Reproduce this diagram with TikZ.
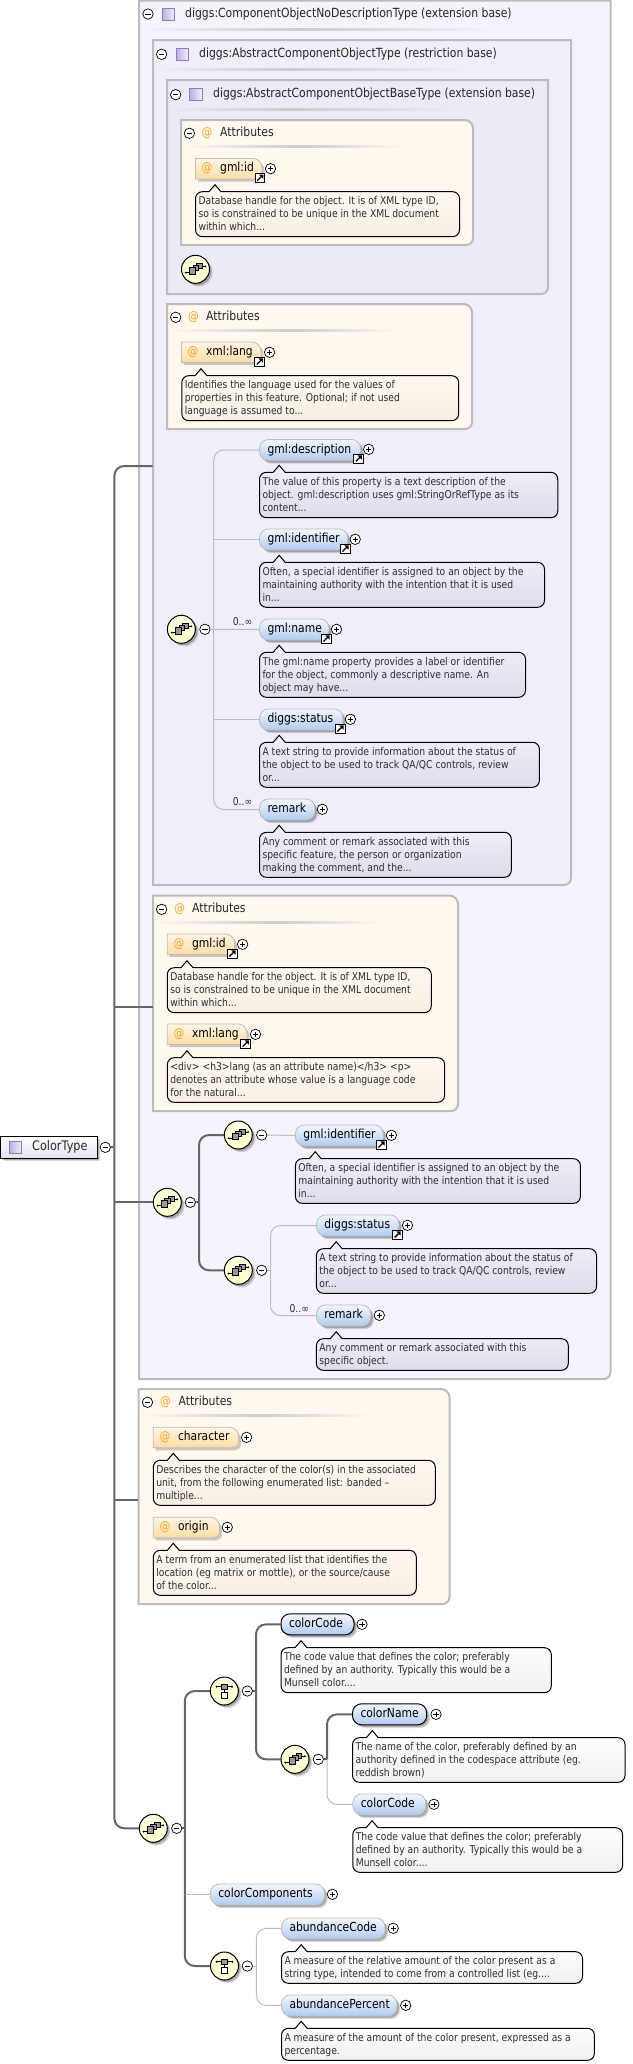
\documentclass[tikz,border=0pt]{standalone}
\usepackage{fontspec}
\setmainfont{DejaVu Sans}[FakeStretch=0.86]
\usetikzlibrary{shadows,calc}
\definecolor{boxA}{HTML}{F5F3FB}
\definecolor{boxB}{HTML}{F0EEF8}
\definecolor{boxC}{HTML}{ECEAF5}
\definecolor{attrbg}{HTML}{FFF8EE}
\definecolor{rimgray}{HTML}{BCBCBC}
\definecolor{lightcon}{HTML}{BDBDBD}
\definecolor{darkcon}{HTML}{666666}
\definecolor{txt}{HTML}{2E2E2E}
\definecolor{atorange}{HTML}{F5A623}
\definecolor{pilltop}{HTML}{F4F7FC}
\definecolor{pillbot}{HTML}{B0CBF0}
\definecolor{iconbg}{HTML}{FFFFCC}
\definecolor{lavtop}{HTML}{F1EFF8}
\definecolor{lavbot}{HTML}{E0DCEB}
\definecolor{credtop}{HTML}{FEF9F1}
\definecolor{credbot}{HTML}{F6EFE4}
\definecolor{whtop}{HTML}{FFFFFF}
\definecolor{whbot}{HTML}{F1F1F1}
\definecolor{typetone}{HTML}{BDB0E0}
\definecolor{typerim}{HTML}{8F78C4}
\definecolor{typeglow}{HTML}{F4F1FB}
\definecolor{atrtop}{HTML}{FFF5E4}
\definecolor{atrbot}{HTML}{FCDCA4}
\pgfdeclarelayer{backl}
\pgfdeclarelayer{connl}
\pgfsetlayers{backl,connl,main}
\newcommand\descsize{\fontsize{10.72}{13}\selectfont}
\newcommand\labsize{\fontsize{12.5}{13}\selectfont}
\tikzset{
  softshadow/.style={drop shadow={shadow xshift=2pt,shadow yshift=-2pt,fill=black,opacity=.22},
                     drop shadow={shadow xshift=3.2pt,shadow yshift=-3.2pt,fill=black,opacity=.14}},
  pillopt/.style={draw=lightcon,line width=.8pt,rounded corners=9pt,top color=pilltop,bottom color=pillbot,softshadow,
     inner xsep=8pt,inner ysep=0pt,align=left,minimum height=21pt,text height=8.4pt,text depth=2.4pt,font=\labsize,text=black},
  pillreq/.style={pillopt,draw=black,line width=1pt},
  plainlab/.style={inner xsep=0pt,inner ysep=0pt,anchor=west,font=\labsize,text=black,text height=8.4pt,text depth=2.4pt},
  titlelab/.style={plainlab,font=\fontsize{12.6}{13}\selectfont,text=black!85},
  rootlab/.style={plainlab,font=\fontsize{13.1}{14}\selectfont,text=black!85},
  atglyph/.style={inner sep=0pt,font=\labsize,text=atorange,text height=8.4pt,text depth=2.4pt},
  desctext/.style={inner sep=0pt,anchor=north west,align=left,font=\descsize,text=txt},
  occlab/.style={inner sep=0pt,anchor=center,font=\descsize,text=txt},
  btn/.style={circle,draw=black,line width=.7pt,fill=white,minimum size=10.4pt,inner sep=0pt},
  btnmark/.style={draw=black,line width=.7pt},
  roundic/.style={circle,draw=black,line width=1pt,top color=iconbg!60!white,bottom color=iconbg,minimum size=28pt,inner sep=0pt,softshadow},
  glyphsq/.style={draw=black,line width=.5pt,fill=black!40},
  glyphln/.style={draw=black,line width=.7pt},
  lnk/.style={draw=black,line width=.8pt,fill=white,minimum size=9.6pt,inner sep=0pt},
  typeic/.style={draw=typerim,line width=1.1pt,left color=typetone,right color=typeglow,minimum size=12.4pt,inner sep=0pt},
  rootbox/.style={draw=black,line width=1pt,top color=white,bottom color=boxC!85!typetone,softshadow,minimum width=96.7pt,minimum height=21.6pt,inner sep=0pt},
  rim/.style={draw=rimgray,line width=2pt},
  lightc/.style={draw=lightcon,line width=1pt,rounded corners=10pt},
  thickc/.style={draw=darkcon,line width=2pt,rounded corners=10pt},
  shadowlay/.style={fill=black,opacity=.2},
  descrim/.style={draw=black,line width=1pt},
  lavdesc/.style={descrim,top color=lavtop,bottom color=lavbot},
  creamdesc/.style={descrim,top color=credtop,bottom color=credbot},
  whitedesc/.style={descrim,top color=whtop,bottom color=whbot},
}
% big container: x1 x2 ytop ybot fill topradius
\newcommand\bigbox[6]{%
  \begin{pgfonlayer}{backl}
  \path[rim,fill=#5] (#1,#3) -- ({#2-#6},#3) .. controls ({#2-#6/2},#3) and (#2,{#3+#6/2}) .. (#2,{#3+#6})
     -- (#2,{#4-7}) .. controls (#2,{#4-3}) and ({#2-3},#4) .. ({#2-7},#4) -- (#1,#4) -- cycle;
  \end{pgfonlayer}}
% title rule: x1 xmid x2 y bg
\newcommand\titlerule[5]{%
  \shade[left color=#5,right color=black!20] (#1,{#4-1}) rectangle (#2,{#4+1});
  \shade[left color=black!20,right color=#5] (#2,{#4-1}) rectangle (#3,{#4+1});}
% minus/plus: name x y
\newcommand\minusbtn[3]{\node[btn] (#1) at (#2,#3) {};
  \draw[btnmark] ($(#1.center)+(-2.6,0)$) -- ($(#1.center)+(2.6,0)$);}
\newcommand\plusbtn[3]{\node[btn] (#1) at (#2,#3) {};
  \draw[btnmark] ($(#1.center)+(-2.6,0)$) -- ($(#1.center)+(2.6,0)$);
  \draw[btnmark] ($(#1.center)+(0,-2.6)$) -- ($(#1.center)+(0,2.6)$);}
% link: name x y
\newcommand\linkic[3]{\node[lnk] (#1) at (#2,#3) {};
  \draw[draw=black,line width=1.3pt] ($(#1.center)+(-2.8,2.8)$) -- ($(#1.center)+(1.6,-1.6)$);
  \fill[black] ($(#1.center)+(3.3,-3.3)$) -- ($(#1.center)+(-1,-3.3)$) -- ($(#1.center)+(3.3,1)$) -- cycle;}
% element pill: style name x1 x2 yc text
\newcommand\pill[6]{\pgfmathsetmacro\pw{#4-#3}\pgfmathsetmacro\pc{(#3+#4)/2}\pgfmathsetmacro\tw{#4-#3-16}%
  \node[#1,minimum width=\pw pt,text width=\tw pt] (#2) at (\pc,#5) {#6};}
% attribute label: name x1 x2 yc text
\newcommand\attrlab[5]{%
  \def\atp{(#2,{#4-10.3}) -- ({#3-9},{#4-10.3}) .. controls ({#3-4},{#4-10.3}) and (#3,{#4-6}) .. (#3,{#4-1})
     -- (#3,{#4+5}) .. controls (#3,{#4+8}) and ({#3-3},{#4+10.3}) .. ({#3-6},{#4+10.3}) -- (#2,{#4+10.3}) -- cycle}%
  \fill[shadowlay,shift={(2.4pt,-2.6pt)}] \atp;
  \path[draw=lightcon,line width=.8pt,top color=atrtop,bottom color=atrbot] \atp;
  \node[atglyph] (#1-at) at ({#2+11.6},#4) {@};
  \node[plainlab] (#1) at ({#2+24.5},#4) {#5};}
% description: name style x1 x2 ytop ybot tipx text
\newcommand\desc[8]{%
  \path[#2] ({#3+7},#5) -- ({#7-6},#5) -- (#7,{#5-7}) -- ({#7+6},#5) -- ({#4-7},#5)
    .. controls ({#4-3},#5) and (#4,{#5+3}) .. (#4,{#5+7}) -- (#4,{#6-7})
    .. controls (#4,{#6-3}) and ({#4-3},#6) .. ({#4-7},#6) -- ({#3+7},#6)
    .. controls ({#3+3},#6) and (#3,{#6-3}) .. (#3,{#6-7}) -- (#3,{#5+7})
    .. controls (#3,{#5+3}) and ({#3+3},#5) .. ({#3+7},#5) -- cycle;
  \node[desctext] (#1) at ({#3+2.8},{#5+3.6}) {\rule{0pt}{9pt}#8};}
% sequence icon
\newcommand\seqic[3]{\node[roundic] (#1) at (#2,#3) {};
  \begin{scope}[shift={(#2,#3)}]
   \draw[glyphln] (-9.6,3.3) -- (-5,3.3); \draw[glyphln] (5,-3) -- (9.8,-3);
   \fill (-9.6,3.3) circle (1.1pt); \fill (9.8,-3) circle (1.1pt);
   \path[glyphsq] (1,-6.2) rectangle (6.6,-.6);
   \path[glyphsq] (-2.6,-4.2) rectangle (3,1.4);
   \path[glyphsq] (-6,-1.6) rectangle (.2,4.6);
  \end{scope}}
% choice icon
\newcommand\choiceic[3]{\node[roundic] (#1) at (#2,#3) {};
  \begin{scope}[shift={(#2,#3)}]
   \draw[glyphln] (-7.7,-4.3) -- (7.7,-4.3); \draw[glyphln] (.2,-2) -- (.2,2);
   \fill (-7.7,-4.3) circle (1.1pt); \fill (7.7,-4.3) circle (1.1pt);
   \path[glyphsq] (-2.8,-7) rectangle (3.2,-1.8);
   \path[draw=black,line width=.7pt,fill=white] (-2.8,1.8) rectangle (3.2,7.8);
  \end{scope}}
\begin{document}
\begin{tikzpicture}[x=1pt,y=-1pt]
\useasboundingbox (0,0) rectangle (632,2064);
\begin{pgfonlayer}{backl}
\fill[white] (0,0) rectangle (632,2064);
\end{pgfonlayer}
% containers
\bigbox{139}{610.5}{0.6}{1379}{boxA}{0.1}
\bigbox{153}{571}{40}{885}{boxB}{0.1}
\bigbox{167}{548}{80}{294}{boxC}{0.1}
\bigbox{181}{473}{120}{245}{attrbg}{8}
\bigbox{167}{472}{304}{429}{attrbg}{8}
\bigbox{153}{458}{895.7}{1111}{attrbg}{8}
\bigbox{138.7}{449.5}{1389}{1604}{attrbg}{8}
\coordinate (portB) at (152.6,466);
\coordinate (portAttrC) at (152.6,1007.3);
\coordinate (portAttrD) at (138.2,1500);
% titled frames
\minusbtn{minA}{148}{14}
\node[typeic] (typeA) at (168.5,14.3) {};
\node[titlelab] (titleA) at (185,14) {diggs:ComponentObjectNoDescriptionType (extension base)};
\titlerule{141}{300}{496}{29}{boxA}
\minusbtn{minB}{161.6}{54.3}
\node[typeic] (typeB) at (182.6,54.3) {};
\node[titlelab] (titleB) at (199,54) {diggs:AbstractComponentObjectType (restriction base)};
\titlerule{155}{290}{470}{69}{boxB}
\minusbtn{minC}{175.7}{94.7}
\node[typeic] (typeC) at (196,94.7) {};
\node[titlelab] (titleC) at (213,94.4) {diggs:AbstractComponentObjectBaseType (extension base)};
\titlerule{169}{290}{455}{109}{boxC}
% attributes 1
\minusbtn{minAt1}{189.4}{133.3}
\node[atglyph] (at1) at (207,133.3) {@};
\node[titlelab] (attrT1) at (220,133.3) {Attributes};
\titlerule{183}{300}{403}{146.7}{attrbg}
\attrlab{id1}{195.5}{262}{168.7}{gml:id}
\linkic{id1-link}{260}{178}
\plusbtn{id1-plus}{270.5}{168.7}
\desc{id1-d}{creamdesc}{195.5}{459.5}{191.7}{236.7}{215}{Database handle for the object. It is of XML type ID,\\so is constrained to be unique in the XML document\\within which...}
\seqic{seqC}{195.5}{269.3}
% attributes 2
\minusbtn{minAt2}{175.7}{317.3}
\node[atglyph] (at2) at (193.5,317.3) {@};
\node[titlelab] (attrT2) at (206,317.3) {Attributes};
\titlerule{169}{290}{397}{330.7}{attrbg}
\attrlab{lang1}{181.4}{261}{352.3}{xml:lang}
\linkic{lang1-link}{259.6}{361.7}
\plusbtn{lang1-plus}{269.6}{352.3}
\desc{lang1-d}{creamdesc}{181.8}{458.7}{375.7}{420.7}{201}{Identifies the language used for the values of\\properties in this feature. Optional; if not used\\language is assumed to...}
% element group in B
\pill{pillopt}{gmldesc}{259.5}{360.6}{450}{gml:description}
\linkic{gmldesc-link}{358.6}{458.7}
\plusbtn{gmldesc-plus}{368.7}{449.3}
\desc{gmldesc-d}{lavdesc}{259.5}{557.8}{472.3}{517.7}{279.2}{The value of this property is a text description of the\\object. gml:description uses gml:StringOrRefType as its\\content...}
\pill{pillopt}{gmlident}{259.5}{347.7}{539.5}{gml:identifier}
\linkic{gmlident-link}{345.3}{548.7}
\plusbtn{gmlident-plus}{355.2}{539.3}
\desc{gmlident-d}{lavdesc}{259.5}{544.5}{562.3}{607.3}{279.2}{Often, a special identifier is assigned to an object by the\\maintaining authority with the intention that it is used\\in...}
\node[occlab] (occ1) at (242.5,622) {0..∞};
\pill{pillopt}{gmlname}{259.5}{329}{629.5}{gml:name}
\linkic{gmlname-link}{326.3}{638.7}
\plusbtn{gmlname-plus}{336.5}{629.3}
\desc{gmlname-d}{lavdesc}{259.5}{525.5}{652.3}{697.3}{279.2}{The gml:name property provides a label or identifier\\for the object, commonly a descriptive name. An\\object may have...}
\pill{pillopt}{status}{259.5}{343}{719.5}{diggs:status}
\linkic{status-link}{340.2}{728.7}
\plusbtn{status-plus}{350.4}{719.3}
\desc{status-d}{lavdesc}{259.5}{539.4}{742.3}{787.3}{279.2}{A text string to provide information about the status of\\the object to be used to track QA/QC controls, review\\or...}
\node[occlab] (occ2) at (242.5,802) {0..∞};
\pill{pillopt}{remark}{259.5}{314.8}{809.5}{remark}
\plusbtn{remark-plus}{322.3}{809.3}
\desc{remark-d}{lavdesc}{259.5}{511.3}{832.3}{877.3}{279.2}{Any comment or remark associated with this\\specific feature, the person or organization\\making the comment, and the...}
\seqic{seqA}{181.4}{629.3}
\minusbtn{seqA-minus}{204.9}{629.3}
\coordinate (busA) at (213.7,629.3);
% attributes 3
\minusbtn{minAt3}{161.6}{909.3}
\node[atglyph] (at3) at (179.8,909.3) {@};
\node[titlelab] (attrT3) at (191.9,909.3) {Attributes};
\titlerule{155}{275}{383}{922.7}{attrbg}
\attrlab{id2}{167.3}{234.6}{944.3}{gml:id}
\linkic{id2-link}{232.2}{953.7}
\plusbtn{id2-plus}{242.6}{944.3}
\desc{id2-d}{creamdesc}{167.3}{431.3}{967.7}{1012.7}{187}{Database handle for the object. It is of XML type ID,\\so is constrained to be unique in the XML document\\within which...}
\attrlab{lang2}{167.3}{247}{1034.3}{xml:lang}
\linkic{lang2-link}{245.5}{1043.7}
\plusbtn{lang2-plus}{255.5}{1034.3}
\desc{lang2-d}{creamdesc}{167.3}{444.6}{1057.7}{1102.3}{187}{<div> <h3>lang (as an attribute name)</h3> <p>\\denotes an attribute whose value is a language code\\for the natural...}
% root
\node[rootbox,anchor=west] (root) at (0,1147.4) {};
\node[typeic] (typeRoot) at (15.7,1147.3) {};
\node[rootlab] (rootT) at (32,1147.3) {ColorType};
\minusbtn{root-minus}{105.3}{1147.3}
\coordinate (bus0) at (114.3,1147.3);
% nested group in A
\seqic{seqB}{167.3}{1202.3}
\minusbtn{seqB-minus}{190.3}{1202.3}
\coordinate (busB) at (199,1202.3);
\seqic{seqB1}{238.3}{1135}
\minusbtn{seqB1-minus}{261.7}{1135}
\seqic{seqB2}{238.3}{1270.3}
\minusbtn{seqB2-minus}{261.7}{1270.3}
\coordinate (busC) at (270.5,1270.3);
\pill{pillopt}{ident2}{295.4}{383.3}{1135.5}{gml:identifier}
\linkic{ident2-link}{381.3}{1144.7}
\plusbtn{ident2-plus}{391.4}{1135.3}
\desc{ident2-d}{lavdesc}{295.4}{580.4}{1158.7}{1203.3}{315.2}{Often, a special identifier is assigned to an object by the\\maintaining authority with the intention that it is used\\in...}
\pill{pillopt}{status2}{316.4}{399}{1225.5}{diggs:status}
\linkic{status2-link}{397.4}{1234.7}
\plusbtn{status2-plus}{407.5}{1225.3}
\desc{status2-d}{lavdesc}{316.4}{596.5}{1248.7}{1293.3}{336.2}{A text string to provide information about the status of\\the object to be used to track QA/QC controls, review\\or...}
\node[occlab] (occ3) at (299.3,1308.3) {0..∞};
\pill{pillopt}{remark2}{316.4}{370.8}{1315.5}{remark}
\plusbtn{remark2-plus}{379.3}{1315.3}
\desc{remark2-d}{lavdesc}{316.4}{568.3}{1338.7}{1370.3}{336.2}{Any comment or remark associated with this\\specific object.}
% attributes 4
\minusbtn{minAt4}{147.5}{1402.3}
\node[atglyph] (at4) at (165.5,1402.3) {@};
\node[titlelab] (attrT4) at (178.4,1402.3) {Attributes};
\titlerule{141}{260}{371}{1415.7}{attrbg}
\attrlab{charattr}{153.3}{238.4}{1437.5}{character}
\plusbtn{charattr-plus}{246.6}{1437.3}
\desc{charattr-d}{creamdesc}{153.3}{435.3}{1460.3}{1505.3}{173.3}{Describes the character of the color(s) in the associated\\unit, from the following enumerated list: banded –\\multiple...}
\attrlab{origattr}{153.3}{219.4}{1527.5}{origin}
\plusbtn{origattr-plus}{227.3}{1527.3}
\desc{origattr-d}{creamdesc}{153.3}{416.3}{1550.3}{1595.3}{173.3}{A term from an enumerated list that identifies the\\location (eg matrix or mottle), or the source/cause\\of the color...}
% bottom group
\seqic{seqD}{153.3}{1828.3}
\minusbtn{seqD-minus}{176.7}{1828.3}
\coordinate (busD) at (184.8,1828.3);
\choiceic{choiceA}{224.3}{1691}
\minusbtn{choiceA-minus}{247.3}{1691}
\coordinate (busE) at (256,1691);
\pill{pillreq}{colorcode}{281}{354}{1624.3}{colorCode}
\plusbtn{colorcode-plus}{362}{1624.3}
\desc{colorcode-d}{whitedesc}{281}{551.3}{1647.7}{1692.7}{301}{The code value that defines the color; preferably\\defined by an authority. Typically this would be a\\Munsell color....}
\seqic{seqE}{295}{1759.3}
\minusbtn{seqE-minus}{318.3}{1759.3}
\coordinate (busF) at (327,1759.3);
\pill{pillreq}{colorname}{352.5}{426.7}{1714.3}{colorName}
\plusbtn{colorname-plus}{436}{1714.3}
\desc{colorname-d}{whitedesc}{352.5}{625}{1737.7}{1782.3}{372.3}{The name of the color, preferably defined by an\\authority defined in the codespace attribute (eg.\\reddish brown)}
\pill{pillopt}{colorcodeb}{352.8}{425.8}{1804.4}{colorCode}
\plusbtn{colorcodeb-plus}{433.9}{1804.3}
\desc{colorcodeb-d}{whitedesc}{352.8}{622.6}{1827.7}{1872.3}{372.1}{The code value that defines the color; preferably\\defined by an authority. Typically this would be a\\Munsell color....}
\pill{pillopt}{colorcomp}{210.3}{324.6}{1894.5}{colorComponents}
\plusbtn{colorcomp-plus}{332.4}{1894.3}
\choiceic{choiceB}{224.5}{1966}
\minusbtn{choiceB-minus}{247.3}{1966}
\coordinate (busG) at (256.4,1966);
\pill{pillopt}{abcode}{281.5}{385}{1928.4}{abundanceCode}
\plusbtn{abcode-plus}{393.2}{1928.3}
\desc{abcode-d}{whitedesc}{281.5}{582.5}{1951.7}{1983.3}{301.2}{A measure of the relative amount of the color present as a\\string type, intended to come from a controlled list (eg....}
\pill{pillopt}{abperc}{281.5}{397}{2005.4}{abundancePercent}
\plusbtn{abperc-plus}{405.7}{2005.3}
\desc{abperc-d}{whitedesc}{281.5}{594.4}{2028.3}{2060.3}{301.2}{A measure of the amount of the color present, expressed as a\\percentage.}
% connectors
\begin{pgfonlayer}{connl}
\draw[thickc] (portB) -| (bus0) |- (seqD.west);
\draw[thickc] (root-minus.east) -- (bus0);
\draw[thickc] (portAttrC) -- (portAttrC -| bus0);
\draw[thickc] (seqB.west) -- (seqB.west -| bus0);
\draw[thickc] (portAttrD) -- (portAttrD -| bus0);
\draw[lightc] (gmldesc.west) -| (busA) |- (remark.west);
\draw[lightc] (seqA-minus.east) -- (gmlname.west);
\draw[lightc] (gmlident.west) -- (gmlident.west -| busA);
\draw[lightc] (status.west) -- (status.west -| busA);
\draw[thickc] (seqB1.west) -| (busB) |- (seqB2.west);
\draw[thickc] (seqB-minus.east) -- (busB);
\draw[lightc] (seqB1-minus.east) -- (ident2.west);
\draw[lightc] (status2.west) -| (busC) |- (remark2.west);
\draw[lightc] (seqB2-minus.east) -- (busC);
\draw[thickc] (choiceA.west) -| (busD) |- (choiceB.west);
\draw[thickc] (seqD-minus.east) -- (busD);
\draw[lightc] (colorcomp.west) -- (colorcomp.west -| busD);
\draw[thickc] (colorcode.west) -| (busE) |- (seqE.west);
\draw[thickc] (choiceA-minus.east) -- (busE);
\draw[lightc] (colorcodeb.west) -| (busF);
\draw[thickc] (colorname.west) -| (busF);
\draw[thickc] (seqE-minus.east) -- (busF);
\draw[lightc] (abcode.west) -| (busG) |- (abperc.west);
\draw[lightc] (choiceB-minus.east) -- (busG);
\end{pgfonlayer}
\end{tikzpicture}
\end{document}
